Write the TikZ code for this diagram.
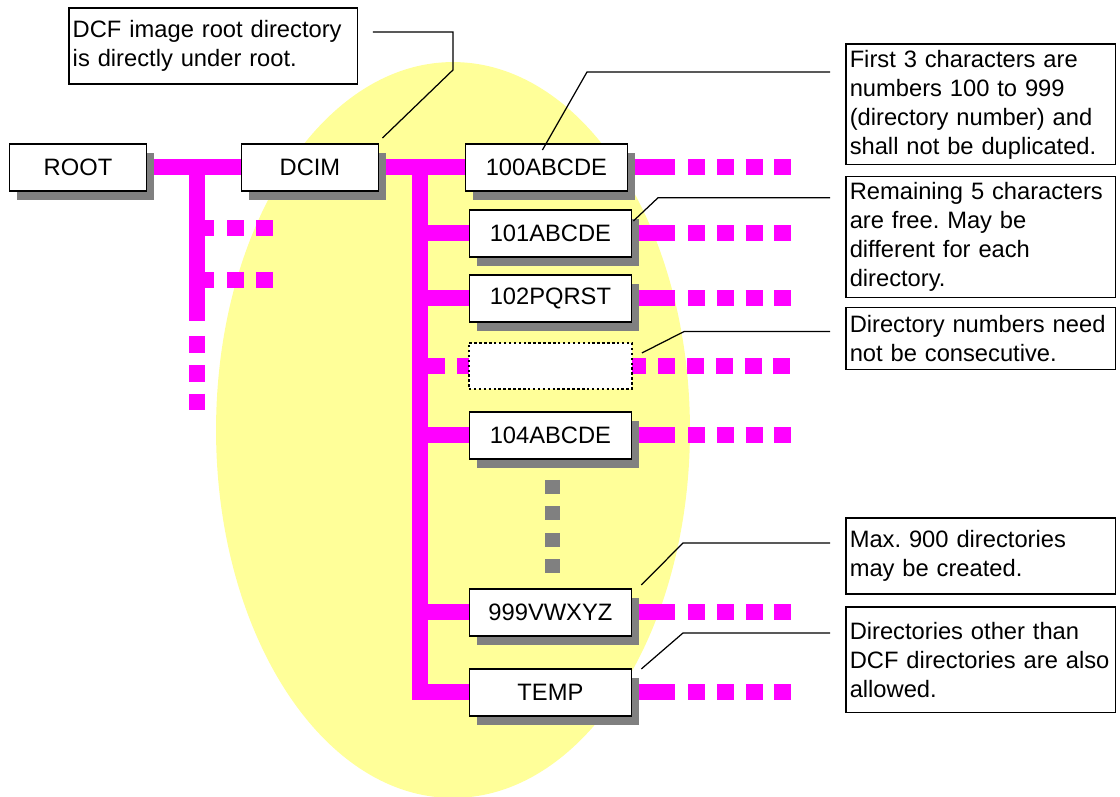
\documentclass[tikz,border=0pt]{standalone}
\usepackage{fontspec}
\setmainfont{Liberation Sans}
\usetikzlibrary{positioning, calc, shadows}
\definecolor{dirpink}{HTML}{FF00FF}
\definecolor{areayellow}{HTML}{FFFF99}
\definecolor{shadowgray}{HTML}{808080}
\pgfdeclarelayer{area}
\pgfdeclarelayer{tree}
\pgfsetlayers{area,tree,main}
\frenchspacing
\newcommand{\dirfont}{\fontsize{13.5}{16.5}\selectfont}
\tikzset{
    dirbox/.style={rectangle, draw, line width=1pt, fill=white, minimum width=3.24cm, minimum height=0.94cm, inner sep=0pt, outer sep=0pt, font=\dirfont, general shadow={fill=shadowgray, shadow xshift=0.15cm, shadow yshift=-0.18cm}},
    gapbox/.style={rectangle, draw, line width=1.5pt, dash pattern=on 1.4pt off 1.4pt, fill=white, minimum width=3.26cm, minimum height=0.92cm, outer sep=0pt},
    note/.style={rectangle, draw, line width=0.6pt, fill=white, text width=5.25cm, inner xsep=0.075cm, align=left, anchor=north west, font=\dirfont, outer sep=0pt},
    pinkline/.style={draw=dirpink, line width=0.32cm},
    pinkdots/.style={draw=dirpink, line width=0.32cm, dash pattern=on 0.34cm off 0.236cm},
    graydots/.style={draw=shadowgray, line width=0.3cm, dash pattern=on 0.28cm off 0.25cm},
    leader/.style={draw, line width=0.7pt}
}

\begin{document}
\begin{tikzpicture}[x=0.02cm, y=-0.02cm]
    \useasboundingbox (0,0) rectangle (1120,797);

    % Directory tree
    \node (root) [dirbox, minimum width=2.74cm] at (78,167.5) {ROOT};
    \node (dcim) [dirbox, minimum width=2.74cm, right=1.9cm of root] {DCIM};
    \node (d100) [dirbox, right=1.74cm of dcim] {100ABCDE};
    \node (d101) [dirbox, below=0.38cm of d100, xshift=0.08cm] {101ABCDE};
    \node (d102) [dirbox, below=0.36cm of d101] {102PQRST};
    \node (dgap) [gapbox, below=0.42cm of d102] {};
    \node (d104) [dirbox, below=0.46cm of dgap] {104ABCDE};
    \node (d999) [dirbox, below=2.6cm of d104] {999VWXYZ};
    \node (dtemp) [dirbox, below=0.66cm of d999] {TEMP};

    % Notes
    \node (n0) [note, text width=5.63cm, minimum height=1.52cm] at (69,8) {DCF image root directory\\is directly under root.};
    \node (n1) [note, minimum height=2.38cm] at (846,44) {First 3 characters are\\numbers 100 to 999\\(directory number) and\\shall not be duplicated.};
    \node (n2) [note, minimum height=2.38cm, below right=0.24cm and 0cm of n1.south west] {Remaining 5 characters\\are free. May be\\different for each\\directory.};
    \node (n3) [note, minimum height=1.24cm, below right=0.2cm and 0cm of n2.south west] {Directory numbers need\\not be consecutive.};
    \node (n4) [note, minimum height=1.52cm] at (846,518) {Max. 900 directories\\may be created.};
    \node (n5) [note, minimum height=2.12cm, below right=0.26cm and 0cm of n4.south west] {Directories other than\\DCF directories are also\\allowed.};

    % DCF area
    \begin{pgfonlayer}{area}
        \fill[areayellow] (453,430) ellipse [x radius=4.74cm, y radius=7.36cm];
    \end{pgfonlayer}

    % Branches
    \begin{pgfonlayer}{tree}
        \coordinate (rt) at ($(root.east)+(51,0)$);
        \coordinate (dt) at ($(dcim.east)+(41.5,0)$);
        \coordinate (xs) at (675,0);
        \coordinate (xd) at (688,0);
        \draw[pinkline] (root) -- (dcim);
        \draw[pinkline] (rt) -- ++(0,153.5);
        \foreach \y in {60.5,112.5} {
            \draw[pinkline] ($(rt)+(0,\y)$) -- ++(17,0);
            \draw[pinkdots] ($(rt)+(30,\y)$) -- ++(46,0);
        }
        \draw[pinkdots] ($(rt)+(0,168.5)$) -- ++(0,74);
        \draw[pinkline] (dcim) -- (d100);
        \draw[pinkline] (dt) -- (dt |- dtemp) -- (dtemp.west);
        \foreach \dir in {d101,d102,d104,d999}
            \draw[pinkline] (dt |- \dir) -- (\dir.west);
        \draw[pinkdots] ($(dt |- dgap)+(8,0)$) -- ++(363,0);
        \foreach \dir in {d100,d101,d102,d104,d999,dtemp} {
            \draw[pinkline] (\dir.east) -- (\dir.east -| xs);
            \draw[pinkdots] (\dir -| xd) -- ++(103.5,0);
        }
        \draw[graydots] ($(d104.south)+(2,21)$) -- ($(d999.north)+(2,-15)$);
    \end{pgfonlayer}

    % Leaders
    \draw[leader] ($(n0.north east)+(15,24)$) -- ++(80,0) -- ++(0,38) -- ($(dcim.north east)+(4,-6)$);
    \draw[leader] ($(n1.north west)+(-16,28)$) -- ++(-243,0) -- ($(d100.north)+(-4,6)$);
    \draw[leader] ($(n2.north west)+(-16,21)$) -- ++(-172,0) -- ($(d101.north east)+(2,11)$);
    \draw[leader] ($(n3.north west)+(-16,24)$) -- ++(-146,0) -- ($(dgap.north east)+(10,10)$);
    \draw[leader] ($(n4.north west)+(-16,25)$) -- ++(-147,0) -- ($(d999.north east)+(10,-4)$);
    \draw[leader] ($(n5.north west)+(-16,26)$) -- ++(-147,0) -- ($(dtemp.north east)+(10,0)$);
\end{tikzpicture}
\end{document}
